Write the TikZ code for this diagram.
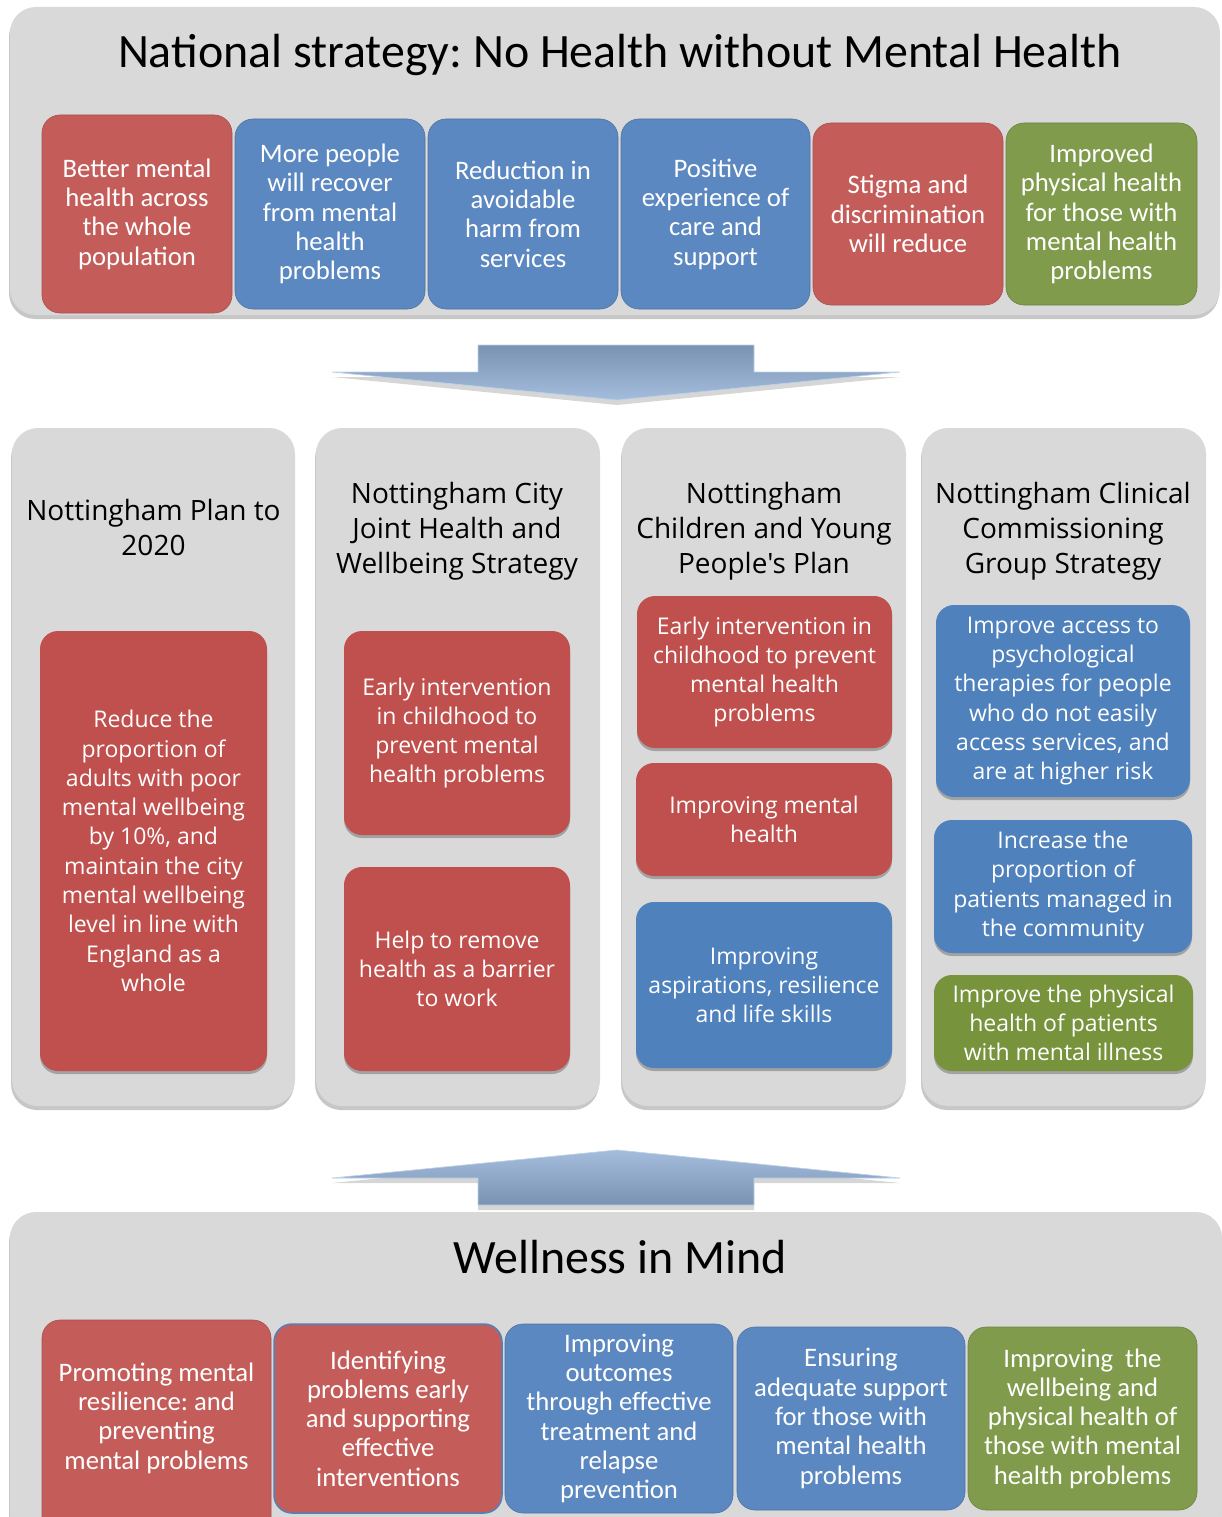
\documentclass[tikz,border=0pt]{standalone}
\usepackage{fontspec}
\setmainfont{Carlito}
\newfontfamily\osfont{Open Sans}
\usetikzlibrary{shadows}
\frenchspacing
\definecolor{pgray}{HTML}{D9D9D9}
\definecolor{tred}{HTML}{C45D5A}
\definecolor{tblue}{HTML}{5B88C0}
\definecolor{tgreen}{HTML}{7F9B4B}
\definecolor{mred}{HTML}{C0504D}
\definecolor{mblue}{HTML}{4F81BD}
\definecolor{mgreen}{HTML}{77933C}
\definecolor{arrdark}{HTML}{7A93B3}
\definecolor{arrlight}{HTML}{A4BDDC}
\begin{document}
\begin{tikzpicture}[x=1pt,y=-1pt,
  boxsize/.style 2 args={minimum width=#1pt, minimum height=#2pt},
  panel/.style={fill=pgray, draw=none, rounded corners=26pt, inner sep=0pt,
    drop shadow={shadow xshift=-1pt, shadow yshift=-4pt, opacity=0.22, fill=black}},
  obox/.style={rounded corners=18pt, inner sep=0pt, text=white, align=center},
  topbox/.style={obox, fill=#1, draw=#1!85!black, line width=0.6pt,
    font=\fontsize{26.7}{29.3}\selectfont},
  midbox/.style={obox, fill=#1, font=\osfont\fontsize{23}{29.3}\selectfont,
    drop shadow={shadow xshift=0pt, shadow yshift=-3pt, opacity=0.25, fill=black}},
  botbox/.style={obox, fill=#1, draw=#1!85!black, line width=0.6pt,
    font=\fontsize{26.7}{29.3}\selectfont},
  bigtitle/.style={font=\fontsize{47.9}{57}\selectfont, anchor=base, inner sep=0pt},
  midtitle/.style={font=\osfont\fontsize{28}{35}\selectfont, align=center, inner sep=0pt},
  wtext/.style={text=white, align=center, inner sep=0pt, font=\fontsize{26.7}{29.3}\selectfont},
  arrshadow/.style={fill=black!16},
  arrbody/.style={draw=arrlight!70!white, line width=0.7pt}
]
\useasboundingbox (0,0) rectangle (1221,1517);

% ---------- top panel ----------
\node[panel, boxsize={1210}{308}] (natpanel) at (615,161) {};
\node[bigtitle] (nattitle) at (620,68) {National strategy: No Health without Mental Health};

\node[topbox=tred,   boxsize={190}{198}] (n1) at (137,214) {Better mental\\health across\\the whole\\population};
\node[topbox=tblue,  boxsize={190}{190}] (n2) at (330,214) {More people\\will recover\\from mental\\health\\problems};
\node[topbox=tblue,  boxsize={190}{190}] (n3) at (523,214) {Reduction in\\avoidable\\harm from\\services};
\node[topbox=tblue,  boxsize={189}{190}] (n4) at (715.5,214) {Positive\\experience of\\care and\\support};
\node[topbox=tred,   boxsize={190}{182}] (n5) at (908,214) {Stigma and\\discrimination\\will reduce};
\node[topbox=tgreen, boxsize={191}{182}] (n6) at (1101.5,214) {Improved\\physical health\\for those with\\mental health\\problems};

% ---------- down arrow ----------
\fill[arrshadow] (478,350) -- (754,350) -- (754,377) -- (900,377) -- (617,405) -- (332,377) -- (478,377) -- cycle;
\shade[top color=arrdark, bottom color=arrlight, arrbody]
  (478,345) -- (754,345) -- (754,372) -- (900,372) -- (617,400) -- (332,372) -- (478,372) -- cycle;

% ---------- middle panels ----------
\node[panel, boxsize={283}{678}] (p1) at (153.5,767) {};
\node[panel, boxsize={284}{678}] (p2) at (458,767) {};
\node[panel, boxsize={284}{678}] (p3) at (764,767) {};
\node[panel, boxsize={284}{678}] (p4) at (1064,767) {};

\node[midtitle] (p1t) at (153.5,527) {Nottingham Plan to\\2020};
\node[midtitle] (p2t) at (457,531) {Nottingham City\\Joint Health and\\Wellbeing Strategy};
\node[midtitle] (p3t) at (764,531) {Nottingham\\Children and Young\\People's Plan};
\node[midtitle] (p4t) at (1063,531) {Nottingham Clinical\\Commissioning\\Group Strategy};

\node[midbox=mred, boxsize={227}{440}] (a1) at (153.5,851) {Reduce the\\proportion of\\adults with poor\\mental wellbeing\\by 10\%, and\\maintain the city\\mental wellbeing\\level in line with\\England as a\\whole};

\node[midbox=mred, boxsize={226}{204}] (b1) at (457,733) {Early intervention\\in childhood to\\prevent mental\\health problems};
\node[midbox=mred, boxsize={226}{204}] (b2) at (457,969) {Help to remove\\health as a barrier\\to work};

\node[midbox=mred,  boxsize={255}{152}] (c1) at (764.5,672) {Early intervention in\\childhood to prevent\\mental health\\problems};
\node[midbox=mred,  boxsize={256}{113}] (c2) at (764,819.5) {Improving mental\\health};
\node[midbox=mblue, boxsize={256}{166}] (c3) at (764,985) {Improving\\aspirations, resilience\\and life skills};

\node[midbox=mblue,  boxsize={254}{192}] (d1) at (1063,701) {Improve access to\\psychological\\therapies for people\\who do not easily\\access services, and\\are at higher risk};
\node[midbox=mblue,  boxsize={258}{133}] (d2) at (1063,886.5) {Increase the\\proportion of\\patients managed in\\the community};
\node[midbox=mgreen, boxsize={259}{96}]  (d3) at (1063.5,1023) {Improve the physical\\health of patients\\with mental illness};

% ---------- up arrow ----------
\fill[arrshadow] (478,1210) -- (754,1210) -- (754,1183) -- (900,1183) -- (617,1155) -- (332,1183) -- (478,1183) -- cycle;
\shade[top color=arrlight, bottom color=arrdark, arrbody]
  (478,1205) -- (754,1205) -- (754,1178) -- (900,1178) -- (617,1150) -- (332,1178) -- (478,1178) -- cycle;

% ---------- bottom panel ----------
\node[panel, boxsize={1212}{328}] (wpanel) at (616,1376) {};
\node[bigtitle] (wtitle) at (620,1273) {Wellness in Mind};

\node[botbox=tred, boxsize={229}{220}] (w1) at (156.5,1430) {};
\node[wtext] (w1t) at (156.5,1418) {Promoting mental\\resilience: and\\preventing\\mental problems};
\node[botbox=tred, draw=mblue, line width=1.5pt, boxsize={228}{189}] (w2) at (388,1418.5) {Identifying\\problems early\\and supporting\\effective\\interventions};
\node[botbox=tblue, boxsize={228}{189}] (w3) at (619,1418.5) {Improving\\outcomes\\through effective\\treatment and\\relapse\\prevention};
\node[botbox=tblue, boxsize={228}{183}] (w4) at (851,1418.5) {Ensuring\\adequate support\\for those with\\mental health\\problems};
\node[botbox=tgreen, boxsize={229}{183}] (w5) at (1082.5,1418.5) {Improving~ the\\wellbeing and\\physical health of\\those with mental\\health problems};
\end{tikzpicture}
\end{document}
